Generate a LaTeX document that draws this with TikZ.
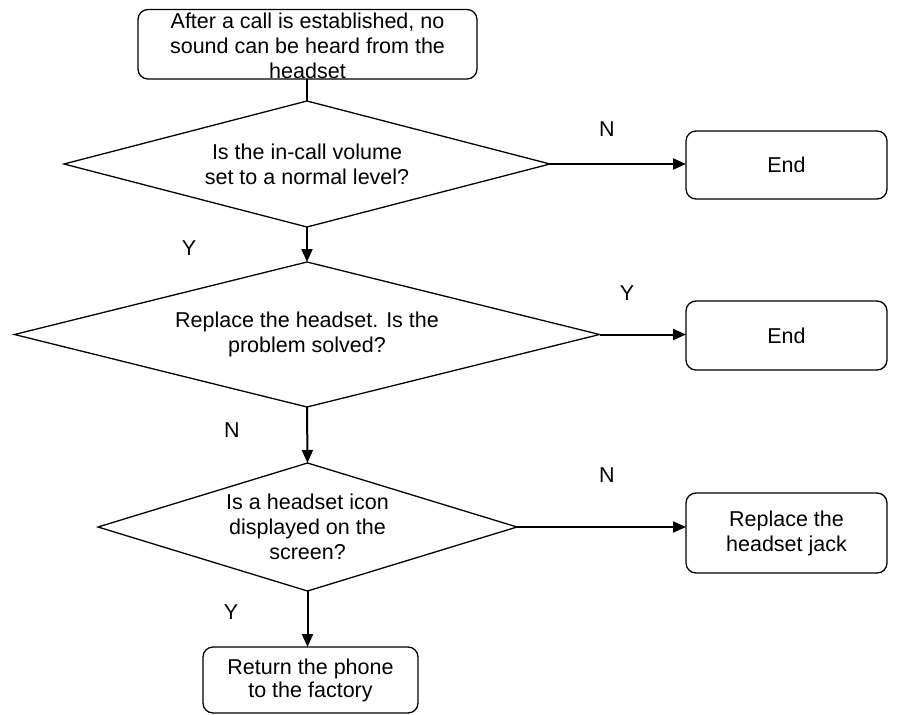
\documentclass[tikz,border=0pt]{standalone}
\usepackage{fontspec}
\setmainfont{Liberation Sans}
\usetikzlibrary{shapes.geometric,arrows.meta}
\begin{document}
\begin{tikzpicture}[x=1pt,y=-1pt,
  every node/.style={font=\fontsize{21.5}{25}\selectfont, inner sep=0pt, outer sep=0pt},
  box/.style={draw, rounded corners=10pt, line width=1.3pt},
  dia/.style={draw, diamond, line width=1.3pt},
  txt/.style={align=center},
  flow/.style={line width=2pt, -{Triangle[length=13pt,width=11pt]}},
  link/.style={line width=2pt}]
\useasboundingbox (0,0) rectangle (909,714);

% start box (its text runs slightly past the frame)
\node[box, minimum width=339pt, minimum height=69.5pt] (start) at (307.5,44.25) {};
\node[txt] (startt) at (307.5,46) {After a call is established, no\\sound can be heard from the\\headset};

% decisions
\node[dia, minimum width=486pt, minimum height=126pt] (d1) at (307,164) {};
\node[txt] (d1t) at (d1) {Is the in-call volume\\set to a normal level?};

\node[dia, minimum width=585pt, minimum height=145pt] (d2) at (307,334.5) {};
\node[txt] (d2t) at (d2) {Replace the headset. Is the\\problem solved?};

\node[dia, minimum width=419pt, minimum height=128pt] (d3) at (307.5,527) {};
\node[txt] (d3t) at (d3) {Is a headset icon\\displayed on the\\screen?};

% outcomes
\node[box, minimum width=201pt, minimum height=68pt] (end1) at (786.5,165) {End};
\node[box, minimum width=201pt, minimum height=69pt] (end2) at (786.5,335.5) {End};
\node[box, minimum width=201pt, minimum height=80pt, txt] (jack) at (786.5,533) {Replace the\\headset jack};
\node[box, minimum width=215pt, minimum height=66pt, txt,
      font=\fontsize{21.5}{23}\selectfont] (ret) at (310.5,680) {Return the phone\\to the factory};

% connectors
\draw[link] (d1.north |- start.south) -- (d1.north);
\draw[flow] (d1.south) -- (d2.north);
\draw[flow] (d2.south) -- (d3.north);
\draw[flow] (d3.south) -- (d3.south |- ret.north);
\draw[flow] (d1.east) -- (d1.east -| end1.west);
\draw[flow] (d2.east) -- (d2.east -| end2.west);
\draw[flow] (d3.east) -- (d3.east -| jack.west);

% branch labels
\node (n1) at (607,129) {N};
\node (y1) at (189,248) {Y};
\node (y2) at (627,293) {Y};
\node (n2) at (232,430) {N};
\node (n3) at (607,475) {N};
\node (y3) at (231,612) {Y};
\end{tikzpicture}
\end{document}
